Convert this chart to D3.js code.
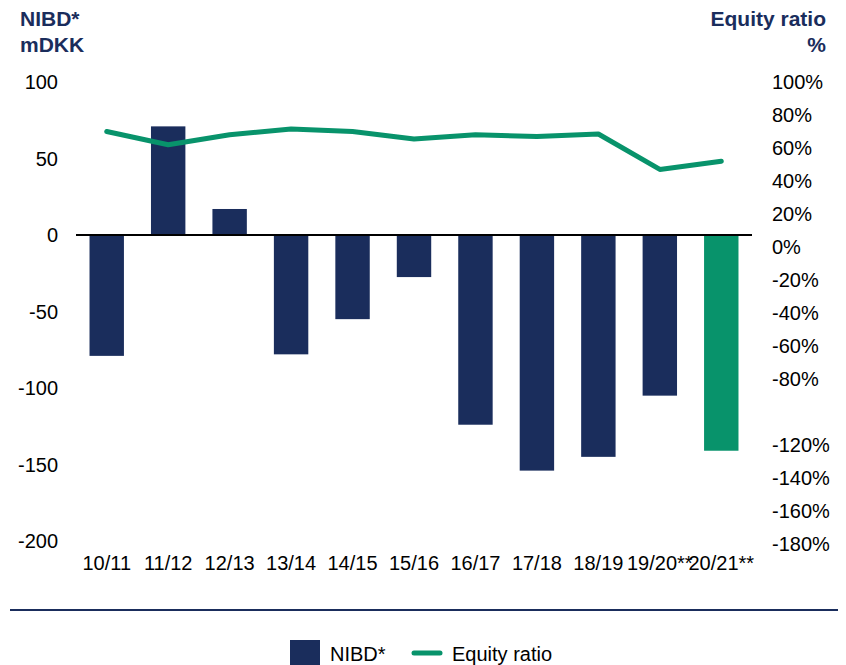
<!DOCTYPE html>
<html>
<head>
<meta charset="utf-8">
<script src="https://cdn.jsdelivr.net/npm/d3@7"></script>
<style>
  body { margin: 0; background: #fff; }
  text { font-family: Arial, "Liberation Sans", sans-serif; }
</style>
</head>
<body>
<div id="chart"></div>
<script>
// data
var categories = ["10/11", "11/12", "12/13", "13/14", "14/15", "15/16", "16/17", "17/18", "18/19", "19/20**", "20/21**"];
var nibd = [-79, 71, 17, -78, -55, -27.5, -124, -154, -145, -105, -141];
var equityRatio = [70, 62, 68, 71.5, 70, 65.5, 68, 67, 68.5, 47, 52];
var leftTicks = [100, 50, 0, -50, -100, -150, -200];
var rightTicks = [100, 80, 60, 40, 20, 0, -20, -40, -60, -80, -120, -140, -160, -180];

var navy = "#1a2d5c", green = "#08936b";

var svg = d3.select("#chart").append("svg")
    .attr("width", 846)
    .attr("height", 665);

var x = d3.scaleBand()
    .domain(categories)
    .range([76, 752])
    .paddingInner(0.44)
    .paddingOuter(0.22);

var yLeft = d3.scaleLinear().domain([-200, 100]).range([541, 82]);
var yRight = d3.scaleLinear().domain([-180, 100]).range([544, 82]);

// titles
svg.append("text").attr("x", 20).attr("y", 26).text("NIBD*")
    .attr("font-size", "21px").attr("font-weight", "bold").attr("fill", navy);
svg.append("text").attr("x", 20).attr("y", 52).text("mDKK")
    .attr("font-size", "21px").attr("font-weight", "bold").attr("fill", navy);
svg.append("text").attr("x", 826).attr("y", 26).text("Equity ratio")
    .attr("text-anchor", "end")
    .attr("font-size", "21px").attr("font-weight", "bold").attr("fill", navy);
svg.append("text").attr("x", 826).attr("y", 52).text("%")
    .attr("text-anchor", "end")
    .attr("font-size", "21px").attr("font-weight", "bold").attr("fill", navy);

// left axis
svg.selectAll(".lt").data(leftTicks).enter().append("text")
    .attr("class", "lt")
    .attr("x", 58)
    .attr("y", function (d) { return yLeft(d); })
    .attr("dy", "0.35em")
    .attr("text-anchor", "end")
    .attr("font-size", "20px")
    .text(function (d) { return d; });

// right axis
svg.selectAll(".rt").data(rightTicks).enter().append("text")
    .attr("class", "rt")
    .attr("x", 772)
    .attr("y", function (d) { return yRight(d); })
    .attr("dy", "0.35em")
    .attr("font-size", "20px")
    .text(function (d) { return d + "%"; });

// bars
svg.selectAll(".bar").data(nibd).enter().append("rect")
    .attr("class", "bar")
    .attr("x", function (d, i) { return x(categories[i]); })
    .attr("width", x.bandwidth())
    .attr("y", function (d) { return yLeft(Math.max(0, d)); })
    .attr("height", function (d) { return Math.abs(yLeft(d) - yLeft(0)); })
    .attr("fill", function (d, i) { return i === categories.length - 1 ? green : navy; });

// zero line
svg.append("line")
    .attr("x1", 76).attr("x2", 752)
    .attr("y1", yLeft(0)).attr("y2", yLeft(0))
    .attr("stroke", "#000").attr("stroke-width", 2);

// equity ratio line
var line = d3.line()
    .x(function (d, i) { return x(categories[i]) + x.bandwidth() / 2; })
    .y(function (d) { return yRight(d); });

svg.append("path")
    .datum(equityRatio)
    .attr("d", line)
    .attr("fill", "none")
    .attr("stroke", green)
    .attr("stroke-width", 5)
    .attr("stroke-linecap", "round")
    .attr("stroke-linejoin", "round");

// category labels
svg.selectAll(".cat").data(categories).enter().append("text")
    .attr("class", "cat")
    .attr("x", function (d) { return x(d) + x.bandwidth() / 2; })
    .attr("y", 570)
    .attr("text-anchor", "middle")
    .attr("font-size", "20px")
    .text(function (d) { return d; });

// separator
svg.append("line")
    .attr("x1", 10).attr("x2", 838)
    .attr("y1", 610).attr("y2", 610)
    .attr("stroke", navy).attr("stroke-width", 2);

// legend
svg.append("rect").attr("x", 290).attr("y", 640).attr("width", 30).attr("height", 25).attr("fill", navy);
svg.append("text").attr("x", 330).attr("y", 661).attr("font-size", "20px").text("NIBD*");
svg.append("line")
    .attr("x1", 414).attr("x2", 440).attr("y1", 653).attr("y2", 653)
    .attr("stroke", green).attr("stroke-width", 5).attr("stroke-linecap", "round");
svg.append("text").attr("x", 452).attr("y", 661).attr("font-size", "20px").text("Equity ratio");
</script>
</body>
</html>
